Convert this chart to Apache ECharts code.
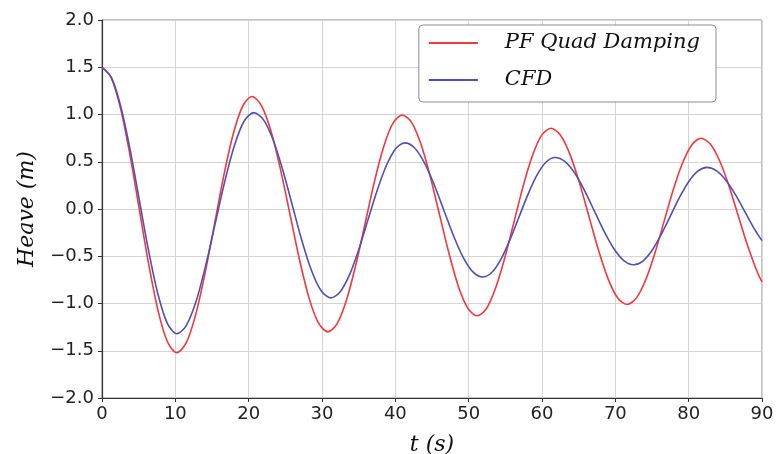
<!DOCTYPE html>
<html>
<head>
<meta charset="utf-8">
<script src="https://cdn.jsdelivr.net/npm/echarts@6/dist/echarts.min.js"></script>
<style>
html,body{margin:0;padding:0;background:#fff;}
#chart{width:776px;height:454px;}
</style>
</head>
<body>
<div id="chart"></div>
<script>
// PF Quad Damping (red)
var tPF = [0, 1.275, 2.55, 3.825, 5.1, 6.375, 7.65, 8.925, 10.2,
  11.48, 12.76, 14.04, 15.33, 16.61, 17.89, 19.17, 20.45,
  21.74, 23.04, 24.33, 25.63, 26.92, 28.21, 29.51, 30.8,
  32.07, 33.34, 34.61, 35.88, 37.14, 38.41, 39.68, 40.95,
  42.23, 43.5, 44.78, 46.05, 47.33, 48.6, 49.88, 51.15,
  52.41, 53.66, 54.92, 56.18, 57.43, 58.69, 59.94, 61.2,
  62.5, 63.8, 65.1, 66.4, 67.7, 69.0, 70.3, 71.6,
  72.86, 74.13, 75.39, 76.65, 77.91, 79.18, 80.44, 81.7,
  82.98, 84.25, 85.53, 86.8, 88.08, 89.35, 90];
var heavePF = [1.5, 1.385, 1.058, 0.568, -0.01, -0.588, -1.078, -1.405, -1.52,
  -1.417, -1.123, -0.684, -0.165, 0.354, 0.793, 1.087, 1.19,
  1.095, 0.825, 0.422, -0.055, -0.532, -0.935, -1.205, -1.30,
  -1.213, -0.964, -0.592, -0.153, 0.287, 0.659, 0.908, 0.995,
  0.914, 0.684, 0.339, -0.068, -0.474, -0.819, -1.049, -1.13,
  -1.055, -0.839, -0.518, -0.138, 0.242, 0.563, 0.779, 0.854,
  0.783, 0.581, 0.279, -0.078, -0.435, -0.737, -0.939, -1.01,
  -0.943, -0.752, -0.468, -0.131, 0.206, 0.49, 0.681, 0.748,
  0.685, 0.505, 0.236, -0.081, -0.398, -0.667, -0.772];
// CFD (blue)
var tCFD = [0, 1.275, 2.55, 3.825, 5.1, 6.375, 7.65, 8.925, 10.2,
  11.51, 12.83, 14.14, 15.45, 16.76, 18.08, 19.39, 20.7,
  22.01, 23.33, 24.64, 25.95, 27.26, 28.58, 29.89, 31.2,
  32.46, 33.73, 34.99, 36.25, 37.51, 38.78, 40.04, 41.3,
  42.63, 43.95, 45.28, 46.6, 47.93, 49.25, 50.58, 51.9,
  53.14, 54.38, 55.61, 56.85, 58.09, 59.33, 60.56, 61.8,
  63.14, 64.48, 65.81, 67.15, 68.49, 69.83, 71.16, 72.5,
  73.75, 75.0, 76.25, 77.5, 78.75, 80.0, 81.25, 82.5,
  83.81, 85.13, 86.44, 87.75, 89.06, 90];
var heaveCFD = [1.5, 1.393, 1.087, 0.63, 0.09, -0.45, -0.907, -1.213, -1.32,
  -1.231, -0.977, -0.598, -0.15, 0.298, 0.677, 0.931, 1.02,
  0.946, 0.733, 0.415, 0.04, -0.335, -0.653, -0.866, -0.94,
  -0.878, -0.7, -0.434, -0.12, 0.194, 0.46, 0.638, 0.7,
  0.646, 0.492, 0.262, -0.01, -0.282, -0.512, -0.666, -0.72,
  -0.672, -0.535, -0.33, -0.088, 0.155, 0.36, 0.497, 0.545,
  0.502, 0.379, 0.195, -0.023, -0.24, -0.424, -0.547, -0.59,
  -0.551, -0.439, -0.272, -0.075, 0.122, 0.289, 0.401, 0.44,
  0.403, 0.299, 0.144, -0.04, -0.224, -0.335];
var seriesNames = ['PF Quad Damping', 'CFD'];
var xTicks = {min: 0, max: 90, interval: 10};
var yTicks = {min: -2, max: 2, interval: 0.5};

function pairs(t, v) { return t.map(function (x, i) { return [x, v[i]]; }); }

var chart = echarts.init(document.getElementById('chart'), null, {renderer: 'canvas'});
var tickFont = {fontFamily: 'DejaVu Sans', fontSize: 18, color: '#222'};
chart.setOption({
  animation: false,
  backgroundColor: '#fff',
  grid: {left: 102, right: 14, top: 20, bottom: 56, show: true, borderColor: '#8a8a8a', borderWidth: 1,
         containLabel: false, outerBoundsMode: 'none'},
  legend: {
    right: 60, top: 25,
    orient: 'vertical',
    data: seriesNames,
    icon: 'rect',
    itemWidth: 49, itemHeight: 2, itemGap: 13,
    padding: [6, 16, 10, 10],
    borderColor: '#8c8c8c', borderWidth: 1, borderRadius: 4,
    backgroundColor: '#fff',
    textStyle: {fontFamily: 'DejaVu Serif', fontStyle: 'italic', fontSize: 21, color: '#111', lineHeight: 24, padding: [0, 0, 0, 22]}
  },
  xAxis: {
    type: 'value', min: xTicks.min, max: xTicks.max, interval: xTicks.interval,
    name: 't (s)', nameLocation: 'middle', nameGap: 36,
    nameTextStyle: {fontFamily: 'DejaVu Serif', fontStyle: 'italic', fontSize: 22, color: '#111'},
    axisLine: {onZero: false, lineStyle: {color: '#333', width: 1.2}},
    axisTick: {show: true, length: 4, lineStyle: {color: '#333'}},
    axisLabel: Object.assign({margin: 7}, tickFont),
    splitLine: {show: true, lineStyle: {color: '#d4d4d4', width: 1}}
  },
  yAxis: {
    type: 'value', min: yTicks.min, max: yTicks.max, interval: yTicks.interval,
    name: 'Heave (m)', nameLocation: 'middle', nameGap: 64,
    nameTextStyle: {fontFamily: 'DejaVu Serif', fontStyle: 'italic', fontSize: 22, color: '#111'},
    axisLine: {onZero: false, lineStyle: {color: '#333', width: 1.2}},
    axisTick: {show: true, length: 4, lineStyle: {color: '#333'}},
    axisLabel: Object.assign({margin: 8, formatter: function (v) { return v.toFixed(1).replace('-', '\u2212'); }}, tickFont),
    splitLine: {show: true, lineStyle: {color: '#d4d4d4', width: 1}}
  },
  series: [
    {name: seriesNames[0], type: 'line', data: pairs(tPF, heavePF), smooth: 0.3, symbol: 'none',
     lineStyle: {color: '#f5363c', width: 1.6}, itemStyle: {color: '#f5363c'}, z: 2},
    {name: seriesNames[1], type: 'line', data: pairs(tCFD, heaveCFD), smooth: 0.3, symbol: 'none',
     lineStyle: {color: '#5050b4', width: 1.6}, itemStyle: {color: '#5050b4'}, z: 3}
  ]
});
</script>
</body>
</html>
